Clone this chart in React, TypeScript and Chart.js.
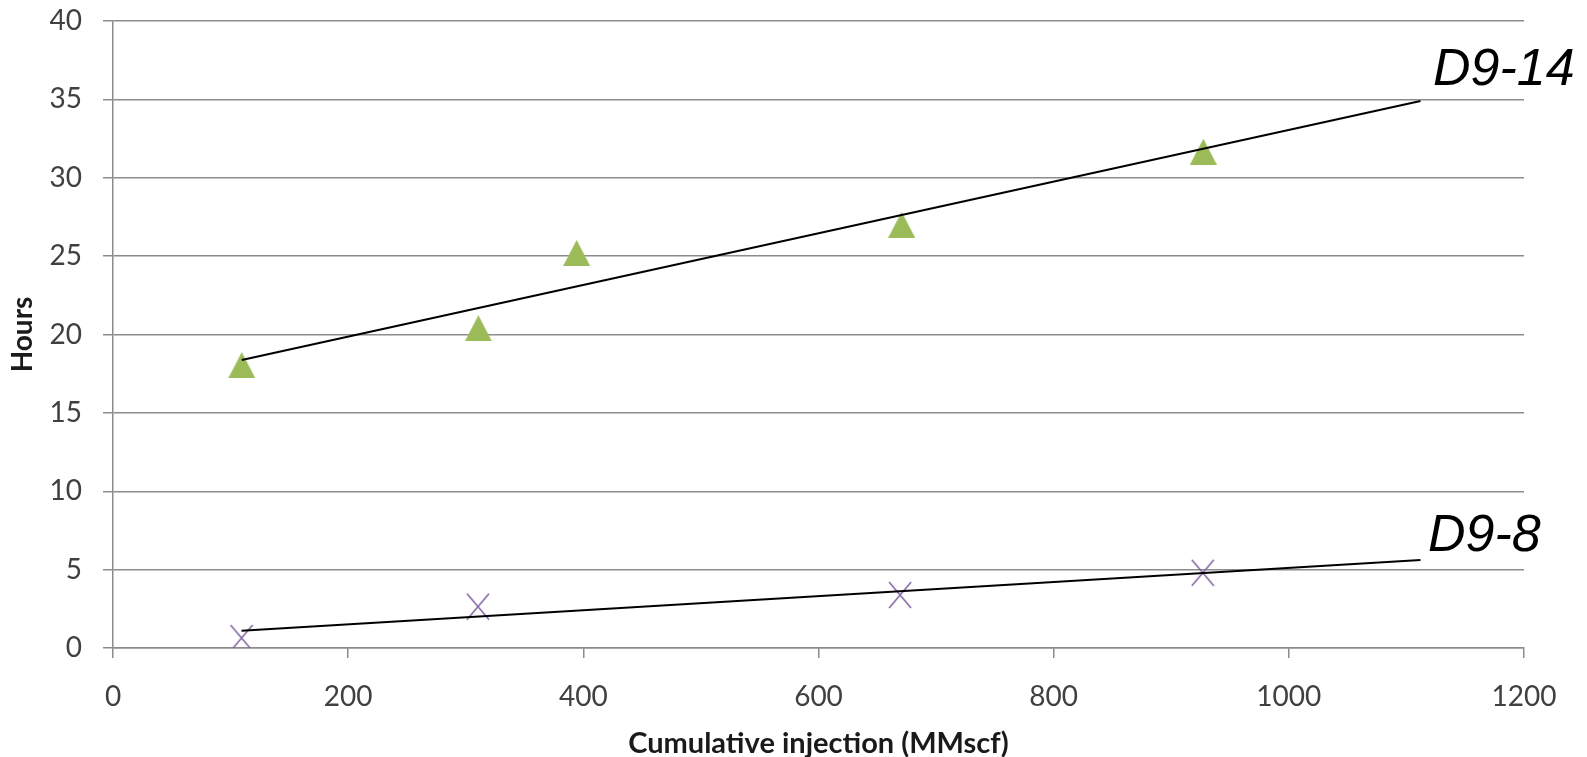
import React, { useEffect, useRef } from "react";
import { Chart, registerables } from "chart.js";

Chart.register(...registerables);

// D9-14 observations (triangles)
const d914X = [109.5, 310.7, 394.3, 670.7, 927.3];
const d914Y = [18.05, 20.4, 25.2, 27.0, 31.66];
// D9-8 observations (crosses)
const d98X = [109.3, 310.4, 669.4, 926.8];
const d98Y = [0.64, 2.64, 3.38, 4.8];
// Linear trend lines (end points)
const trend914X = [109.5, 1112];
const trend914Y = [18.37, 34.9];
const trend98X = [109.3, 1112];
const trend98Y = [1.1, 5.61];
// Series labels: text and anchor (left / baseline) in data units
const seriesLabels = ["D9-14", "D9-8"];
const labelX = [1122.6, 1118.4];
const labelY = [35.9, 6.19];

const xTicks = { min: 0, max: 1200, step: 200 };
const yTicks = { min: 0, max: 40, step: 5 };

const toPoints = (xs: number[], ys: number[]) => xs.map((x, i) => ({ x, y: ys[i] }));

function makeTriangle(): HTMLCanvasElement {
  const c = document.createElement("canvas");
  c.width = 27;
  c.height = 26;
  const ctx = c.getContext("2d")!;
  ctx.fillStyle = "#9BBB59";
  ctx.beginPath();
  ctx.moveTo(13.5, 0);
  ctx.lineTo(27, 26);
  ctx.lineTo(0, 26);
  ctx.closePath();
  ctx.fill();
  return c;
}

function makeCross(): HTMLCanvasElement {
  const c = document.createElement("canvas");
  c.width = 24;
  c.height = 28;
  const ctx = c.getContext("2d")!;
  ctx.strokeStyle = "#8064A2";
  ctx.lineWidth = 1.5;
  ctx.beginPath();
  ctx.moveTo(1, 1);
  ctx.lineTo(23, 27);
  ctx.moveTo(23, 1);
  ctx.lineTo(1, 27);
  ctx.stroke();
  return c;
}

const GRID = "#8c8c8c";

export default function App() {
  const ref = useRef<HTMLCanvasElement | null>(null);

  useEffect(() => {
    if (!ref.current) return;
    const tri = makeTriangle();
    const cross = makeCross();

    const labelPlugin = {
      id: "seriesLabels",
      afterDraw(chart: any) {
        const { ctx, scales } = chart;
        ctx.save();
        ctx.fillStyle = "#000";
        ctx.font = "italic 52px 'Liberation Sans', Arial, sans-serif";
        ctx.textAlign = "left";
        ctx.textBaseline = "alphabetic";
        seriesLabels.forEach((t, i) => {
          ctx.fillText(t, scales.x.getPixelForValue(labelX[i]), scales.y.getPixelForValue(labelY[i]));
        });
        ctx.restore();
      },
    };

    const chart = new Chart(ref.current, {
      type: "scatter",
      data: {
        datasets: [
          {
            type: "line",
            label: "Trend D9-14",
            data: toPoints(trend914X, trend914Y),
            borderColor: "#000",
            borderWidth: 2,
            pointRadius: 0,
            fill: false,
          } as any,
          {
            type: "line",
            label: "Trend D9-8",
            data: toPoints(trend98X, trend98Y),
            borderColor: "#000",
            borderWidth: 2,
            pointRadius: 0,
            fill: false,
          } as any,
          {
            label: "D9-14",
            data: toPoints(d914X, d914Y),
            pointStyle: tri,
            pointRadius: 13,
            showLine: false,
          },
          {
            label: "D9-8",
            data: toPoints(d98X, d98Y),
            pointStyle: cross,
            pointRadius: 13,
            showLine: false,
          },
        ],
      },
      options: {
        animation: false,
        responsive: true,
        maintainAspectRatio: false,
        layout: { padding: { top: 21, right: 63, left: 0, bottom: 0 } },
        plugins: { legend: { display: false }, tooltip: { enabled: false } },
        scales: {
          x: {
            type: "linear",
            min: xTicks.min,
            max: xTicks.max,
            afterFit: (s: any) => {
              s.height = 109;
              s.paddingLeft = 0;
              s.paddingRight = 0;
            },
            ticks: {
              stepSize: xTicks.step,
              color: "#404040",
              font: { family: "Lato", size: 28 },
              padding: 22,
              maxRotation: 0,
              callback: (v: any) => String(v),
            },
            grid: {
              display: true,
              drawOnChartArea: false,
              drawTicks: true,
              tickLength: 10,
              color: GRID,
              lineWidth: 1.5,
            },
            border: { display: true, color: GRID, width: 1.5 },
            title: {
              display: true,
              text: "Cumulative injection (MMscf)",
              color: "#1a1a1a",
              font: { family: "Lato", size: 29, weight: "bold" },
              padding: { top: 0, bottom: -4 },
            },
          },
          y: {
            type: "linear",
            min: yTicks.min,
            max: yTicks.max,
            afterFit: (s: any) => {
              s.width = 113;
              s.paddingTop = 0;
              s.paddingBottom = 0;
            },
            ticks: {
              stepSize: yTicks.step,
              color: "#404040",
              font: { family: "Lato", size: 28 },
              padding: 21,
              callback: (v: any) => String(v),
            },
            grid: {
              display: true,
              drawOnChartArea: true,
              drawTicks: true,
              tickLength: 10,
              color: GRID,
              lineWidth: 1.5,
            },
            border: { display: true, color: GRID, width: 1.5 },
            title: {
              display: true,
              text: "Hours",
              color: "#1a1a1a",
              font: { family: "Lato", size: 28, weight: "bold" },
              padding: { top: 6, bottom: 0 },
            },
          },
        },
      },
      plugins: [labelPlugin],
    });
    return () => chart.destroy();
  }, []);

  return (
    <div style={{ position: "absolute", left: 0, top: 0, width: 1587, height: 757, background: "#fff" }}>
      <canvas ref={ref} />
    </div>
  );
}
